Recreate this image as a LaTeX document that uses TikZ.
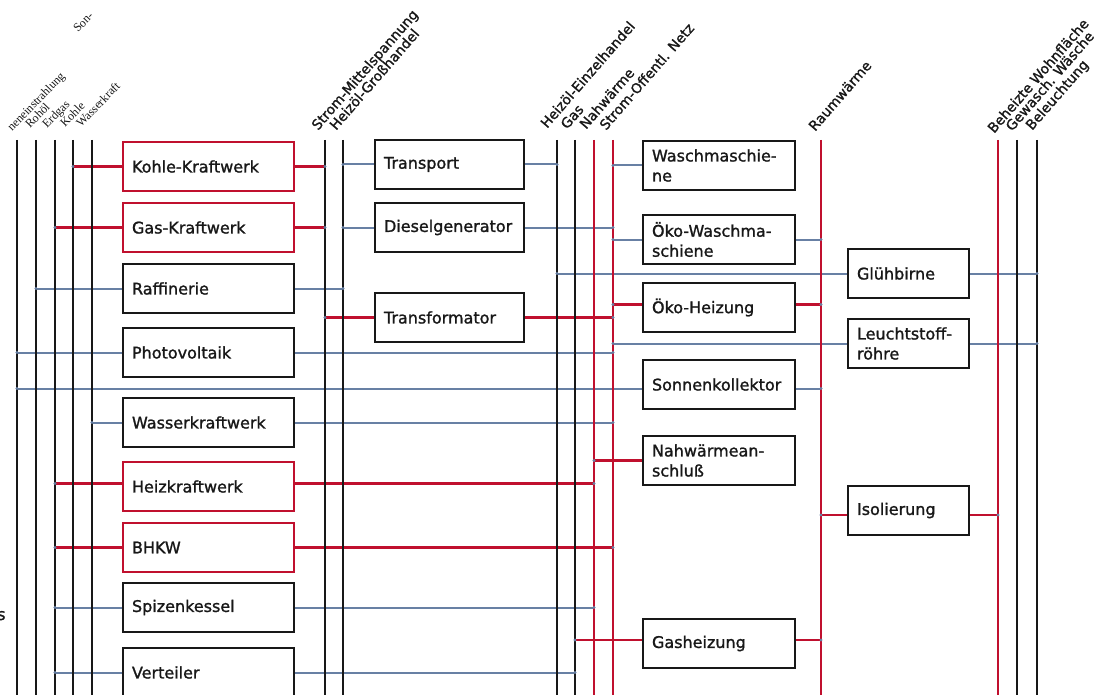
\documentclass[tikz,border=0pt]{standalone}
\usepackage{fontspec}
\setmainfont{DejaVu Sans}[BoldFont={DejaVu Sans},BoldFeatures={FakeBold=1.3}]
\newfontfamily\labserif{Liberation Serif}
\definecolor{rd}{RGB}{192,16,46}
\definecolor{bgc}{RGB}{104,128,164}
\definecolor{ink}{RGB}{24,24,24}
\pgfdeclarelayer{conn}
\pgfdeclarelayer{vert}
\pgfsetlayers{conn,vert,main}
\newcommand{\lnk}[3]{%
  \begin{pgfonlayer}{conn}\draw[#1] (#2) -- (#2 -| #3);\end{pgfonlayer}%
  \fill[bgc] (#2 -| #3) circle (1.7pt);}
\begin{document}
\begin{tikzpicture}[x=1pt,y=-1pt,
  vline/.style={ink, line width=1.8pt},
  vred/.style={rd, line width=2.8pt},
  cb/.style={bgc, line width=2pt},
  cr/.style={rd, line width=2.8pt},
  box/.style={draw=ink, line width=1.8pt, fill=white, anchor=north west,
    inner xsep=9pt, inner ysep=0pt, outer sep=0pt, align=left, minimum height=49pt,
    font=\fontsize{16}{20}\selectfont\bfseries, text=ink},
  rbox/.style={box, draw=rd, line width=2.6pt},
  colA/.style={text width=153pt},
  colB/.style={text width=131pt},
  colC/.style={text width=134pt},
  colD/.style={text width=103pt},
  toplab/.style={rotate=49, anchor=base west, inner sep=0pt,
    font=\fontsize{13.8}{16}\selectfont\bfseries, text=ink},
  serlab/.style={rotate=46, anchor=base west, inner sep=0pt,
    font=\labserif\fontsize{12}{13}\selectfont, text=ink}
]
\useasboundingbox (0,0) rectangle (1107,695);

% vertical carriers
\coordinate (vSonne)  at (17,140);
\coordinate (vRohoel) at (36,140);
\coordinate (vErdgas) at (55,140);
\coordinate (vKohle)  at (73,140);
\coordinate (vWasser) at (92,140);
\coordinate (vStromM) at (325,140);
\coordinate (vHeizGH) at (343,140);
\coordinate (vHeizEH) at (557,140);
\coordinate (vGas)    at (575,140);
\coordinate (vNahw)   at (594,140);
\coordinate (vStromN) at (613,140);
\coordinate (vRaum)   at (821,140);
\coordinate (vWohn)   at (998,140);
\coordinate (vWaesche) at (1017,140);
\coordinate (vLicht)  at (1037,140);

\begin{pgfonlayer}{vert}
\foreach \c in {vSonne,vRohoel,vErdgas,vKohle,vWasser,vStromM,vHeizGH,vHeizEH,vGas,vWaesche,vLicht}
  \draw[vline] (\c) -- ++(0,556);
\foreach \c in {vNahw,vStromN,vRaum,vWohn}
  \draw[vred] (\c) -- ++(0,556);
\end{pgfonlayer}

% labels
\node[serlab] (lSon)   at (78,33)  {Son-};
\node[serlab] (lSonne) at (12,132) {neneinstrahlung};
\node[serlab] (lRoh)   at (30,129) {Rohöl};
\node[serlab] (lErd)   at (47,129) {Erdgas};
\node[serlab] (lKoh)   at (65,128) {Kohle};
\node[serlab] (lWas)   at (81,128) {Wasserkraft};

\node[toplab] (lSM) at (318,131) {Strom-Mittelspannung};
\node[toplab] (lHG) at (336,131) {Heizöl-Großhandel};
\node[toplab] (lHE) at (547,129) {Heizöl-Einzelhandel};
\node[toplab] (lGas) at (567,130) {Gas};
\node[toplab] (lNw) at (586,130) {Nahwärme};
\node[toplab] (lSN) at (606,131) {Strom-Offentl. Netz};
\node[toplab] (lRw) at (815,132) {Raumwärme};
\node[toplab] (lBW) at (994,134) {Beheizte Wohnfläche};
\node[toplab] (lGW) at (1012,132) {Gewasch. Wäsche};
\node[toplab] (lBL) at (1032,131) {Beleuchtung};

\node[anchor=base west, inner sep=0pt, font=\fontsize{16}{20}\selectfont\bfseries, text=ink] (sCut) at (-3,620) {s};

% boxes: column A
\node[rbox,colA] (K)  at (123,142) {Kohle-Kraftwerk};
\node[rbox,colA] (G)  at (123,203) {Gas-Kraftwerk};
\node[box,colA]  (R)  at (123,264) {Raffinerie};
\node[box,colA]  (P)  at (123,328) {Photovoltaik};
\node[box,colA]  (W)  at (123,398) {Wasserkraftwerk};
\node[rbox,colA] (H)  at (123,462) {Heizkraftwerk};
\node[rbox,colA] (B)  at (123,523) {BHKW};
\node[box,colA]  (S)  at (123,583) {Spizenkessel};
\node[box,colA]  (V)  at (123,648) {Verteiler};
% column B
\node[box,colB] (T)  at (375,140) {Transport};
\node[box,colB] (D)  at (375,203) {Dieselgenerator};
\node[box,colB] (Tr) at (375,293) {Transformator};
% column C
\node[box,colC] (Wa) at (643,141) {Waschmaschie-\\ne};
\node[box,colC] (OW) at (643,215) {Öko-Waschma-\\schiene};
\node[box,colC] (OH) at (643,283) {Öko-Heizung};
\node[box,colC] (So) at (643,360) {Sonnenkollektor};
\node[box,colC] (N)  at (643,436) {Nahwärmean-\\schluß};
\node[box,colC] (GH) at (643,619) {Gasheizung};
% column D
\node[box,colD] (Gl) at (848,249) {Glühbirne};
\node[box,colD] (L)  at (848,319) {Leuchtstoff-\\röhre};
\node[box,colD] (I)  at (848,486) {Isolierung};

% shifted connection points
\coordinate (Hw)  at ([yshift=3pt]H.west);
\coordinate (He)  at ([yshift=3pt]H.east);
\coordinate (OHw) at ([yshift=3pt]OH.west);
\coordinate (OHe) at ([yshift=3pt]OH.east);
\coordinate (Sow) at ([yshift=-4pt]So.west);
\coordinate (Soe) at ([yshift=-4pt]So.east);
\coordinate (GHw) at ([yshift=3.5pt]GH.west);
\coordinate (GHe) at ([yshift=3.5pt]GH.east);
\coordinate (Iw)  at ([yshift=-4.5pt]I.west);
\coordinate (Ie)  at ([yshift=-4.5pt]I.east);

% connections column A
\lnk{cr}{K.west}{vKohle}   \lnk{cr}{K.east}{vStromM}
\lnk{cr}{G.west}{vErdgas}  \lnk{cr}{G.east}{vStromM}
\lnk{cb}{R.west}{vRohoel}  \lnk{cb}{R.east}{vHeizGH}
\lnk{cb}{P.west}{vSonne}   \lnk{cb}{P.east}{vStromN}
\lnk{cb}{W.west}{vWasser}  \lnk{cb}{W.east}{vStromN}
\lnk{cr}{Hw}{vErdgas}      \lnk{cr}{He}{vNahw}
\lnk{cr}{B.west}{vErdgas}  \lnk{cr}{B.east}{vStromN}
\lnk{cb}{S.west}{vErdgas}  \lnk{cb}{S.east}{vNahw}
\lnk{cb}{V.west}{vErdgas}  \lnk{cb}{V.east}{vGas}
% column B
\lnk{cb}{T.west}{vHeizGH}  \lnk{cb}{T.east}{vHeizEH}
\lnk{cb}{D.west}{vHeizGH}  \lnk{cb}{D.east}{vStromN}
\lnk{cr}{Tr.west}{vStromM} \lnk{cr}{Tr.east}{vStromN}
% column C
\lnk{cb}{Wa.west}{vStromN}
\lnk{cb}{OW.west}{vStromN} \lnk{cb}{OW.east}{vRaum}
\lnk{cr}{OHw}{vStromN}     \lnk{cr}{OHe}{vRaum}
\lnk{cb}{Sow}{vSonne}      \lnk{cb}{Soe}{vRaum}
\lnk{cr}{N.west}{vNahw}
\lnk{cr}{GHw}{vGas}        \lnk{cr}{GHe}{vRaum}
% column D
\lnk{cb}{Gl.west}{vHeizEH} \lnk{cb}{Gl.east}{vLicht}
\lnk{cb}{L.west}{vStromN}  \lnk{cb}{L.east}{vLicht}
\lnk{cr}{Iw}{vRaum}        \lnk{cr}{Ie}{vWohn}
\end{tikzpicture}
\end{document}
